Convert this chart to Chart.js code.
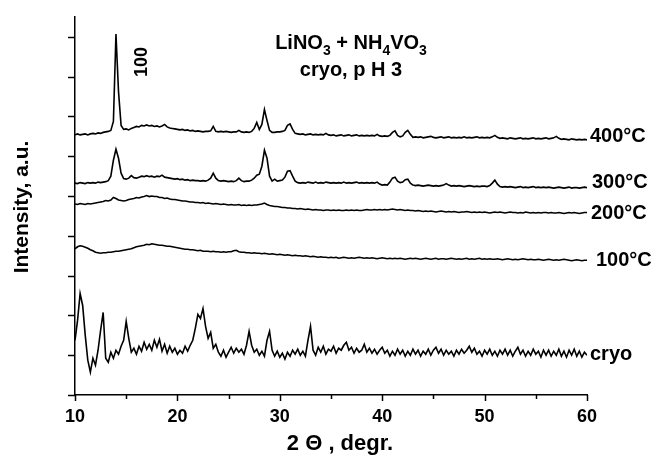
<!DOCTYPE html>
<html>
<head>
<meta charset="utf-8">
<script src="https://cdn.jsdelivr.net/npm/chart.js@4.4.1/dist/chart.umd.min.js"></script>
<style>
  html, body { margin: 0; padding: 0; background: #fff; }
  #wrap { width: 653px; height: 456px; }
</style>
</head>
<body>
<div id="wrap"><canvas id="xrd-chart"></canvas></div>
<script>
// 2 theta grid, degrees
const twoTheta = [
  10, 10.25, 10.5, 10.75, 11, 11.25, 11.5, 11.75, 12, 12.25, 12.5, 12.75,
  13, 13.25, 13.5, 13.75, 14, 14.25, 14.5, 14.75, 15, 15.25, 15.5, 15.75,
  16, 16.25, 16.5, 16.75, 17, 17.25, 17.5, 17.75, 18, 18.25, 18.5, 18.75,
  19, 19.25, 19.5, 19.75, 20, 20.25, 20.5, 20.75, 21, 21.25, 21.5, 21.75,
  22, 22.25, 22.5, 22.75, 23, 23.25, 23.5, 23.75, 24, 24.25, 24.5, 24.75,
  25, 25.25, 25.5, 25.75, 26, 26.25, 26.5, 26.75, 27, 27.25, 27.5, 27.75,
  28, 28.25, 28.5, 28.75, 29, 29.25, 29.5, 29.75, 30, 30.25, 30.5, 30.75,
  31, 31.25, 31.5, 31.75, 32, 32.25, 32.5, 32.75, 33, 33.25, 33.5, 33.75,
  34, 34.25, 34.5, 34.75, 35, 35.25, 35.5, 35.75, 36, 36.25, 36.5, 36.75,
  37, 37.25, 37.5, 37.75, 38, 38.25, 38.5, 38.75, 39, 39.25, 39.5, 39.75,
  40, 40.25, 40.5, 40.75, 41, 41.25, 41.5, 41.75, 42, 42.25, 42.5, 42.75,
  43, 43.25, 43.5, 43.75, 44, 44.25, 44.5, 44.75, 45, 45.25, 45.5, 45.75,
  46, 46.25, 46.5, 46.75, 47, 47.25, 47.5, 47.75, 48, 48.25, 48.5, 48.75,
  49, 49.25, 49.5, 49.75, 50, 50.25, 50.5, 50.75, 51, 51.25, 51.5, 51.75,
  52, 52.25, 52.5, 52.75, 53, 53.25, 53.5, 53.75, 54, 54.25, 54.5, 54.75,
  55, 55.25, 55.5, 55.75, 56, 56.25, 56.5, 56.75, 57, 57.25, 57.5, 57.75,
  58, 58.25, 58.5, 58.75, 59, 59.25, 59.5, 59.75, 60
];

// intensities (a.u., stacked with offsets as in the figure)
const int400 = [
  261.5, 262.5, 261.5, 262, 262.5, 261.5, 262.5, 263, 262.5, 263.5, 263, 264,
  264.5, 265, 266, 275, 363, 305, 271, 267, 267.5, 266.5, 268, 269,
  270, 269.5, 271, 270.5, 271.5, 270.5, 271, 270, 270.5, 269.5, 270.5, 272,
  269.5, 268.5, 268, 267.5, 267, 266.5, 267, 266, 266.5, 265.5, 266, 265,
  265.5, 265, 264.5, 265, 265, 265.5, 270, 265, 264.5, 265, 264.5, 265,
  264.5, 264, 264.5, 264.5, 266, 264.5, 264, 264.5, 264, 265, 268, 274,
  267, 272, 287, 276, 266, 264, 264, 264.5, 264.5, 265, 266, 271,
  272.5, 267, 263, 262.5, 262, 262.5, 261.5, 262, 262.5, 261.5, 262, 261.5,
  262, 261.5, 263, 261.5, 261, 261.5, 260.5, 261, 261.5, 260.5, 261, 261.5,
  260.5, 261, 261.5, 260.5, 261, 260.5, 261, 260.5, 261, 260.5, 262, 260.5,
  260, 260.5, 260, 261, 264, 265.5, 261, 259.5, 260.5, 264, 266, 262,
  259, 259.5, 259, 259.5, 258.5, 259, 259.5, 260, 259, 258.5, 259, 259.5,
  258.5, 259, 259.5, 258.5, 259, 258.5, 259, 258.5, 259.5, 258.5, 259, 258.5,
  259, 259.5, 258.5, 259, 258.5, 259, 258.5, 259.5, 261, 259, 258, 258.5,
  258, 257.5, 258.5, 258, 257.5, 258, 258.5, 257.5, 258, 257.5, 258, 258.5,
  257.5, 258, 257.5, 258, 258.5, 257.5, 258, 258.5, 260, 258, 257, 257.5,
  257, 256.5, 257.5, 257, 256.5, 257, 256.5, 257, 256.5
];

const int300 = [
  213, 212.5, 213.5, 213, 212.5, 213.5, 213, 213.5, 213, 214, 213.5, 214,
  214.5, 215.5, 220, 236, 247, 238, 223, 217.5, 217, 218, 220.5, 218.5,
  218, 219, 220, 219.5, 220.5, 219.5, 220, 219, 220, 219.5, 221, 219,
  218.5, 218, 217.5, 217, 217.5, 216.5, 217, 216, 216.5, 215.5, 216, 215.5,
  215.5, 215, 215.5, 215, 216, 218, 223, 218, 215.5, 215, 215.5, 215,
  214.5, 215, 214.5, 215.5, 218, 215.5, 214.5, 215, 215, 216, 218, 221,
  222, 230, 246, 238, 220, 215, 217, 215, 215.5, 216, 219, 225,
  225.5, 220, 215, 213.5, 213, 213.5, 213, 214, 213.5, 213, 214, 213,
  213.5, 213, 214, 213.5, 213, 213.5, 213, 213.5, 213, 214, 213, 213.5,
  213, 213.5, 214, 213, 213.5, 213, 213.5, 213, 213.5, 213, 214, 212,
  211, 211.5, 211, 214, 218, 219, 215, 213.5, 214, 216.5, 217, 213,
  211, 210.5, 211, 210.5, 210, 210.5, 211, 210.5, 210, 210.5, 210, 210.5,
  211, 212.5, 211, 210, 210.5, 210, 210.5, 210, 209.5, 210, 210.5, 210,
  209.5, 210, 209.5, 210, 210, 209.5, 210.5, 213, 216, 212, 209.5, 209,
  209.5, 209, 209.5, 209, 208.5, 209, 209.5, 208.5, 209, 208.5, 209, 209.5,
  208.5, 209, 208.5, 209, 208.5, 209, 208.5, 208, 208.5, 209, 208.5, 208,
  208.5, 209, 208, 208.5, 208.5, 208, 208.5, 209, 208.5
];

const int200 = [
  192, 191.5, 192.5, 192, 191.5, 192.5, 192, 192.5, 193, 193.5, 194, 194.5,
  195.5, 195, 196, 198.5, 197.5, 196, 195.5, 195, 195.5, 196.5, 197, 197.5,
  198.5, 198, 199, 199.5, 200.5, 199.5, 200, 199.5, 199.5, 198.5, 198.5, 197.5,
  198, 197, 196.5, 196.5, 196, 195.5, 195, 195, 194.5, 194, 194, 193.5,
  193.5, 193, 193.5, 192.5, 193, 192.5, 192, 192.5, 192, 191.5, 192, 191.5,
  191, 191.5, 191, 191, 191.5, 190.5, 191, 190.5, 191, 190.5, 191, 191,
  191.5, 192, 193, 191.5, 190.5, 190, 189.5, 189.5, 189, 188.5, 188.5, 188,
  188, 187.5, 187.5, 187, 187.5, 187, 186.5, 187, 186.5, 186, 186.5, 186,
  186, 185.5, 186, 186, 185.5, 186, 185.5, 186, 185.5, 185.5, 186, 185.5,
  186, 185.5, 186, 185.5, 185.5, 186, 186.5, 186, 186, 186.5, 186, 186.5,
  186, 186.5, 186, 186.5, 187, 186.5, 186, 186.5, 186, 185.5, 186, 185.5,
  185.5, 185, 185.5, 185, 184.5, 185, 184.5, 185, 184.5, 184, 184.5, 185,
  184.5, 184, 184.5, 184, 184.5, 184, 183.5, 184, 184, 184.5, 184, 183.5,
  184, 183.5, 184, 183.5, 184, 183.5, 183, 183.5, 184, 183.5, 184, 183.5,
  183, 183.5, 184, 183.5, 183.5, 183, 183.5, 183, 184, 183.5, 183, 183.5,
  183, 183.5, 183, 183.5, 183.5, 183, 183.5, 183, 183, 183.5, 183, 182.5,
  183, 183.5, 183, 183.5, 183, 182.5, 183, 183.5, 183.5
];

const int100 = [
  147, 149, 150, 149.5, 148.5, 147.5, 146, 145, 143.5, 143, 142.5, 143,
  143, 143.5, 143.5, 144, 144.5, 144.5, 145, 145.5, 146, 146.5, 147, 148,
  149, 149.5, 150, 150.5, 151.5, 151, 152, 151.5, 151, 150.5, 150.5, 150,
  149.5, 149.5, 149, 148.5, 148, 147.5, 147, 146.5, 146.5, 146, 146, 145.5,
  145, 145.5, 144.5, 144.5, 144.5, 144, 144.5, 144, 144, 143.5, 144, 143.5,
  144, 144, 145, 145.5, 144, 143.5, 143.5, 143, 143, 142.5, 143, 142.5,
  142.5, 142, 142.5, 142, 141.5, 142, 141.5, 141, 141.5, 141, 140.5, 141,
  140.5, 140, 140.5, 140, 140, 139.5, 140, 139.5, 139, 139.5, 139, 138.5,
  139, 138.5, 138.5, 138, 138.5, 138, 138.5, 137.5, 138, 138.5, 138, 137.5,
  138, 137.5, 138, 138.5, 138, 137.5, 138, 137.5, 138, 137.5, 137, 137.5,
  138, 137.5, 137, 137.5, 137, 137.5, 137, 137.5, 137, 136.5, 137, 137.5,
  137, 137.5, 137, 136.5, 137, 137.5, 137, 136.5, 137, 137.5, 136.5, 137,
  137, 136.5, 137, 137.5, 137, 136.5, 137, 136.5, 137, 137.5, 136.5, 137,
  136.5, 137, 137.5, 136.5, 137, 136.5, 137, 136.5, 136.5, 137, 136.5, 136,
  136.5, 137, 136.5, 136, 136.5, 136, 136.5, 137, 136.5, 136, 136.5, 136,
  136, 136.5, 136, 135.5, 136, 136.5, 136, 135.5, 136, 135.5, 136, 136.5,
  136, 135.5, 135, 135.5, 136, 135.5, 135, 135.5, 135.5
];

const intCryo = [
  55, 75, 102, 90, 60, 35, 23, 37, 30, 45, 65, 83,
  37, 33, 43, 37, 45, 41, 49, 55, 74, 57, 43, 47,
  41, 49, 44, 53, 46, 51, 45, 55, 48, 56, 44, 51,
  42, 49, 43, 47, 41, 45, 42, 49, 44, 50, 55, 67,
  81, 77, 87, 69, 57, 63, 47, 51, 43, 39, 45, 38,
  43, 48, 42, 47, 43, 46, 41, 50, 64, 50, 43, 46,
  40, 44, 39, 55, 64, 45, 39, 44, 38, 42, 36, 43,
  39, 45, 41, 46, 40, 44, 39, 55, 69, 45, 40, 48,
  43, 49, 41, 46, 44, 49, 42, 47, 45, 50, 53, 45,
  48, 42, 47, 43, 45, 51, 43, 47, 42, 46, 41, 45,
  48, 42, 45, 39, 44, 40, 46, 41, 45, 39, 44, 40,
  46, 41, 45, 39, 44, 41, 46, 40, 45, 48, 42, 46,
  40, 45, 41, 44, 39, 45, 41, 46, 42, 45, 49, 43,
  47, 41, 44, 39, 45, 41, 46, 40, 44, 39, 45, 41,
  46, 40, 45, 39, 44, 48, 41, 45, 39, 44, 40, 46,
  41, 44, 38, 45, 40, 45, 39, 44, 40, 46, 39, 44,
  38, 45, 40, 46, 39, 44, 38, 43, 40
];

const seriesNames = ["400°C", "300°C", "200°C", "100°C", "cryo"];
const seriesData = [int400, int300, int200, int100, intCryo];

const FONT = '"Liberation Sans", Arial, Helvetica, sans-serif';

// axis tick marks, annotations and labels
const figureText = {
  id: "figureText",
  afterDraw(chart) {
    const ctx = chart.ctx;
    const xs = chart.scales.x;
    const ys = chart.scales.y;
    const bottom = chart.chartArea.bottom;
    const left = chart.chartArea.left;
    ctx.save();
    ctx.strokeStyle = "#000";
    ctx.lineWidth = 1.5;
    // y ticks
    for (let v = 0; v <= 360; v += 40) {
      const py = Math.round(ys.getPixelForValue(v)) + 0.5;
      ctx.beginPath();
      ctx.moveTo(left - 7, py);
      ctx.lineTo(left, py);
      ctx.stroke();
    }
    // x ticks, major and minor
    for (let t = 10; t <= 60; t += 5) {
      const px = Math.round(xs.getPixelForValue(t)) + 0.5;
      const len = t % 10 === 0 ? 6 : 4;
      ctx.beginPath();
      ctx.moveTo(px, bottom);
      ctx.lineTo(px, bottom + len);
      ctx.stroke();
    }

    ctx.fillStyle = "#000";
    ctx.textBaseline = "alphabetic";

    // series labels on the right
    const labelPos = [[590, 142], [592, 188], [591, 219], [596, 266], [590, 360]];
    ctx.font = "bold 20px " + FONT;
    ctx.textAlign = "left";
    seriesNames.forEach((name, i) => {
      ctx.fillText(name, labelPos[i][0], labelPos[i][1]);
    });

    // header with subscripts, centred
    const parts = [["LiNO", false], ["3", true], [" + NH", false], ["4", true], ["VO", false], ["3", true]];
    const big = "bold 20px " + FONT, small = "bold 14px " + FONT;
    let total = 0;
    parts.forEach(([txt, sub]) => { ctx.font = sub ? small : big; total += ctx.measureText(txt).width; });
    let x = 351 - total / 2;
    parts.forEach(([txt, sub]) => {
      ctx.font = sub ? small : big;
      ctx.fillText(txt, x, sub ? 55 : 49);
      x += ctx.measureText(txt).width;
    });
    ctx.font = big;
    ctx.textAlign = "center";
    ctx.fillText("cryo, p H 3", 351, 76);

    // x title
    ctx.font = "bold 22px " + FONT;
    ctx.fillText("2 \u0398 , degr.", 340, 450);

    // rotated texts
    ctx.save();
    ctx.translate(147, 62);
    ctx.rotate(-Math.PI / 2);
    ctx.font = "bold 18px " + FONT;
    ctx.fillText("100", 0, 0);
    ctx.restore();

    ctx.save();
    ctx.translate(28, 207);
    ctx.rotate(-Math.PI / 2);
    ctx.font = "bold 21px " + FONT;
    ctx.fillText("Intensity, a.u.", 0, 0);
    ctx.restore();

    ctx.restore();
  }
};

const ctx = document.getElementById("xrd-chart").getContext("2d");

new Chart(ctx, {
  type: "line",
  data: {
    labels: twoTheta,
    datasets: seriesData.map((vals, i) => ({
      label: seriesNames[i],
      data: vals,
      borderColor: "#000",
      borderWidth: 1.6,
      pointRadius: 0,
      tension: 0,
      fill: false
    }))
  },
  options: {
    responsive: true,
    maintainAspectRatio: false,
    animation: false,
    devicePixelRatio: 1,
    layout: { padding: { left: 0, top: 17, right: 66, bottom: 0 } },
    plugins: {
      legend: { display: false },
      tooltip: { enabled: false }
    },
    scales: {
      x: {
        type: "linear",
        min: 10,
        max: 60,
        border: { display: true, color: "#000", width: 1.5 },
        grid: { display: false, drawTicks: false },
        ticks: {
          stepSize: 10,
          autoSkip: false,
          maxRotation: 0,
          padding: 11,
          color: "#000",
          font: { family: FONT, size: 18, weight: "bold" }
        },
        afterFit(scale) { scale.height = 61; }
      },
      y: {
        min: 0,
        max: 380,
        border: { display: true, color: "#000", width: 1.5 },
        grid: { display: false, drawTicks: false },
        ticks: { display: false, stepSize: 40 },
        afterFit(scale) { scale.width = 75; }
      }
    }
  },
  plugins: [figureText]
});
</script>
</body>
</html>
